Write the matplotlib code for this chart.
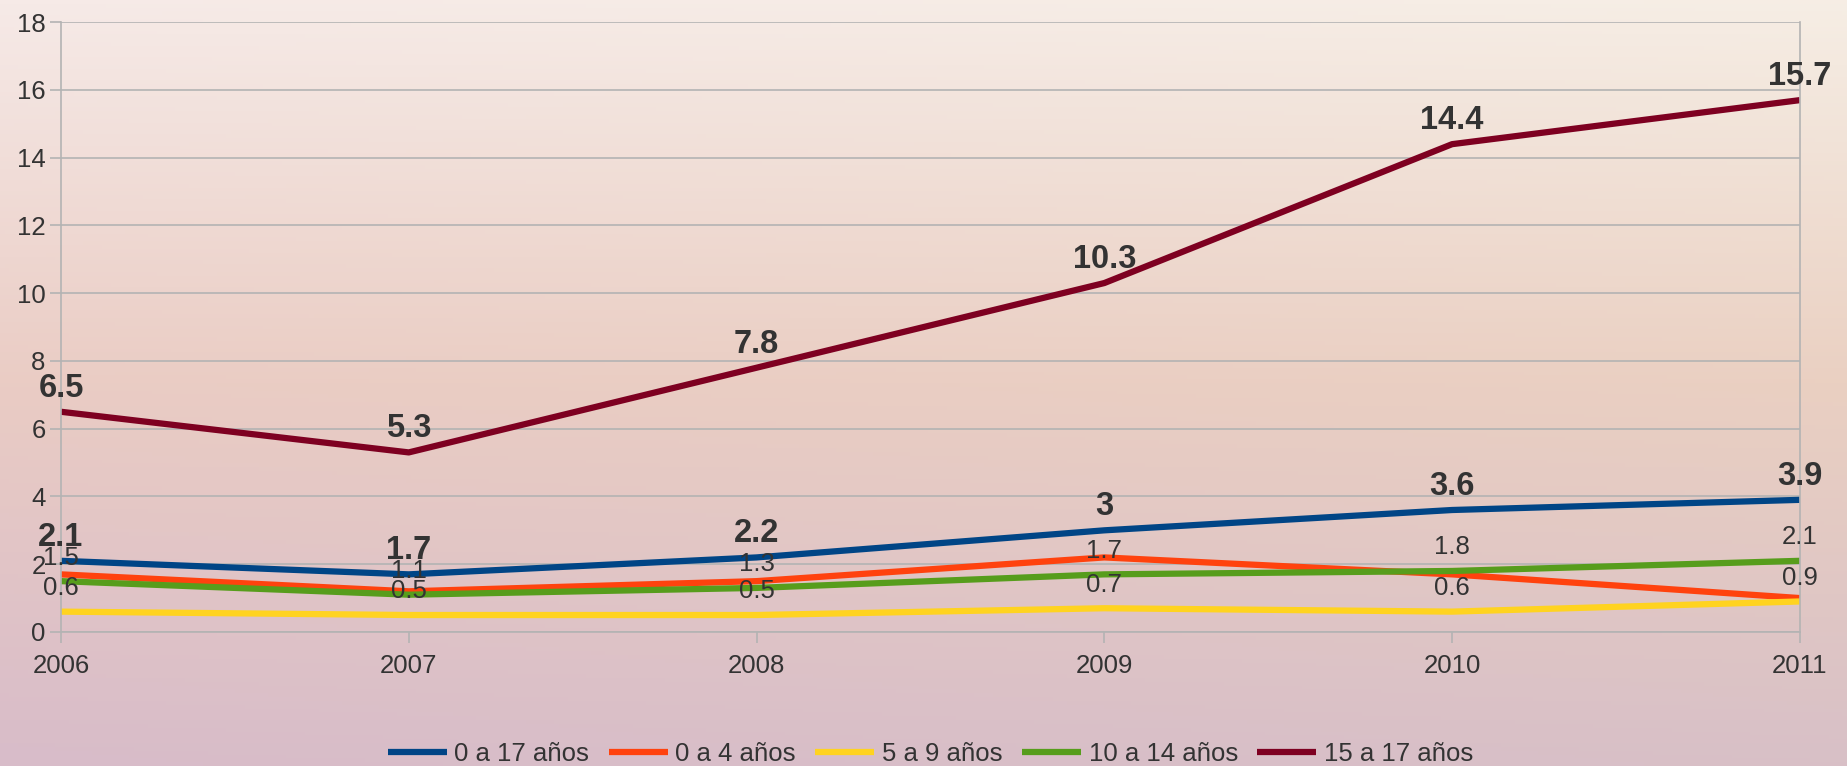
import numpy as np
import matplotlib.pyplot as plt

plt.rcParams['font.family'] = ['Liberation Sans', 'DejaVu Sans']

years = [2006, 2007, 2008, 2009, 2010, 2011]
series_names = ["0 a 17 años", "0 a 4 años", "5 a 9 años", "10 a 14 años", "15 a 17 años"]
total_0_17 = [2.1, 1.7, 2.2, 3.0, 3.6, 3.9]
age_0_4 = [1.7, 1.2, 1.5, 2.2, 1.7, 1.0]
age_5_9 = [0.6, 0.5, 0.5, 0.7, 0.6, 0.9]
age_10_14 = [1.5, 1.1, 1.3, 1.7, 1.8, 2.1]
age_15_17 = [6.5, 5.3, 7.8, 10.3, 14.4, 15.7]
y_ticks = [0, 2, 4, 6, 8, 10, 12, 14, 16, 18]

colors = ["#004586", "#ff420e", "#ffd320", "#579d1c", "#7e0021"]
text_col = "#333333"

fig = plt.figure(figsize=(18.47, 7.66), dpi=100)

# gradient background
bg = fig.add_axes([0, 0, 1, 1], zorder=-10)
bg.axis("off")
h, w = 200, 400
yy, xx = np.mgrid[0:1:h * 1j, 0:1:w * 1j]
top = np.array([246, 236, 230]) / 255
mid = np.array([234, 206, 195]) / 255
bot = np.array([216, 190, 200]) / 255
t = yy[..., None]
img = np.where(t < 0.5, top + (mid - top) * (t / 0.5), mid + (bot - mid) * ((t - 0.5) / 0.5))
# slight warm tint toward the right
img = img + (xx[..., None] - 0.5) * np.array([0.0, 0.015, -0.01])
img = np.clip(img, 0, 1)
bg.imshow(img, aspect="auto", extent=[0, 1, 0, 1], origin="upper")
bg.set_xlim(0, 1)
bg.set_ylim(0, 1)

ax = fig.add_axes([0.033, 0.175, 0.9415, 0.796])
ax.patch.set_alpha(0)

all_series = [total_0_17, age_0_4, age_5_9, age_10_14, age_15_17]
for name, vals, c in zip(series_names, all_series, colors):
    ax.plot(years, vals, color=c, lw=4.5, label=name, solid_capstyle="butt")


def fmt(v):
    return "%g" % v


# bold labels for totals and 15-17, plain for 10-14 and 5-9
for vals, bold in [(total_0_17, True), (age_15_17, True), (age_10_14, False), (age_5_9, False)]:
    for x, v in zip(years, vals):
        ax.annotate(fmt(v), (x, v), xytext=(0, 17), textcoords="offset points",
                    ha="center", va="center", color=text_col,
                    fontsize=23.5 if bold else 18.5,
                    fontweight="bold" if bold else "normal", annotation_clip=False)

ax.set_xlim(2006, 2011)
ax.set_ylim(0, 18)
ax.set_yticks(y_ticks)
ax.set_xticks(years)
ax.set_xticklabels([str(y) for y in years])
ax.yaxis.grid(True, color="#b3b3b3", lw=1.2)
ax.set_axisbelow(True)
for s in ["left", "bottom", "right"]:
    ax.spines[s].set_color("#b3b3b3")
    ax.spines[s].set_linewidth(1.2)
ax.spines["top"].set_visible(False)
ax.tick_params(axis="both", colors="#b3b3b3", labelcolor=text_col, labelsize=18.5,
               length=8, width=1.2)
ax.tick_params(axis="x", pad=8)
ax.tick_params(axis="y", pad=3)

ax.legend(loc="center", bbox_to_anchor=(0.5, -0.2), ncol=5, frameon=False,
          fontsize=18.5, handlelength=2.3, handletextpad=0.3, columnspacing=0.75,
          labelcolor=text_col)

fig.savefig("out.png", dpi=100)
